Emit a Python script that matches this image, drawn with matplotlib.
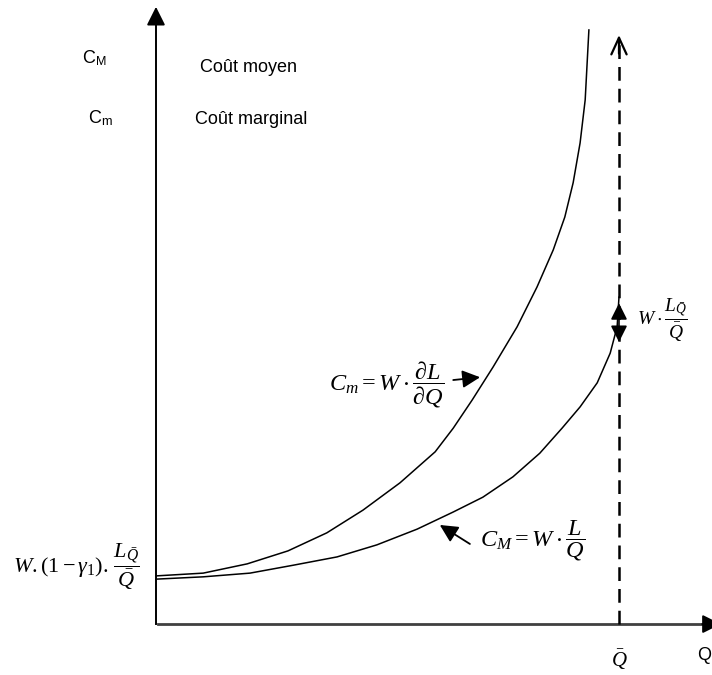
import matplotlib
matplotlib.use("Agg")
import matplotlib.pyplot as plt

plt.rcParams['font.family'] = ['Liberation Sans', 'DejaVu Sans']
plt.rcParams['mathtext.fontset'] = 'custom'
plt.rcParams['mathtext.rm'] = 'Liberation Serif'
plt.rcParams['mathtext.it'] = 'Liberation Serif:italic'
plt.rcParams['mathtext.sf'] = 'Liberation Sans'
plt.rcParams['mathtext.fallback'] = 'stix'

# marginal cost curve (upper)
q_marg = [0.0, 1.02, 1.97, 2.85, 3.69, 4.47, 5.27, 6.03, 6.42, 6.83, 7.28,
          7.80, 8.23, 8.58, 8.83, 9.01, 9.16, 9.27, 9.35]
c_marg = [1.04, 1.10, 1.30, 1.58, 1.97, 2.46, 3.05, 3.72, 4.23, 4.84, 5.55,
          6.42, 7.28, 8.08, 8.79, 9.53, 10.39, 11.32, 12.83]

# average cost curve (lower)
q_moy = [0.0, 1.02, 2.03, 2.96, 3.91, 4.77, 5.64, 6.42, 7.06, 7.71, 8.29,
         8.77, 9.16, 9.53, 9.81, 9.96, 10.0]
c_moy = [0.97, 1.02, 1.10, 1.27, 1.45, 1.71, 2.05, 2.42, 2.74, 3.18, 3.69,
         4.23, 4.69, 5.21, 5.85, 6.42, 7.06]

q_bar = 10.0
y_top = 13.33
x_end = 12.1
dash_top = 12.72
gap_low, gap_high = 6.09, 6.93

fig = plt.figure(figsize=(7.12, 6.75), dpi=100)
ax = fig.add_axes([0, 0, 1, 1])
ax.set_xlim(-3.369, 12.009)
ax.set_ylim(-1.10, 13.477)
ax.axis('off')

# axes
ax.plot([0, 0], [0, y_top - 0.3], color='black', lw=1.4)
ax.annotate('', xy=(0, y_top), xytext=(0, y_top - 0.35),
            arrowprops=dict(arrowstyle='-|>,head_length=0.8,head_width=0.4',
                            mutation_scale=14, color='black', lw=1.4,
                            shrinkA=0, shrinkB=0))
ax.plot([0.05, x_end - 0.2], [0, 0], color='#404040', lw=2)
ax.annotate('', xy=(x_end + 0.1, 0), xytext=(x_end - 0.3, 0),
            annotation_clip=False,
            arrowprops=dict(arrowstyle='-|>,head_length=0.8,head_width=0.4',
                            mutation_scale=14, color='black', lw=1.4,
                            shrinkA=0, shrinkB=0))

# dashed Q bar line
ax.plot([q_bar, q_bar], [0, dash_top - 0.05], color='black', lw=1.8,
        dashes=(5.5, 3.2))
ax.annotate('', xy=(q_bar, dash_top), xytext=(q_bar, dash_top - 0.4),
            arrowprops=dict(arrowstyle='->,head_length=1.2,head_width=0.55',
                            mutation_scale=10, color='black', lw=1.6,
                            shrinkA=0, shrinkB=0))

# curves
ax.plot(q_marg, c_marg, color='black', lw=1.1)
ax.plot(q_moy, c_moy, color='black', lw=1.1)

# small double arrow
ax.annotate('', xy=(q_bar, gap_high), xytext=(q_bar, gap_low),
            arrowprops=dict(arrowstyle='<|-|>,head_length=1.0,head_width=0.5',
                            mutation_scale=10, color='black', lw=1.2,
                            shrinkA=0, shrinkB=0))

# labels top-left
ax.text(-1.60, 12.22, r'C$_{\mathsf{M}}$', fontsize=13, va='center', ha='left')
ax.text(0.95, 12.01, 'Coût moyen', fontsize=13, va='center', ha='left')
ax.text(-1.47, 10.93, r'C$_{\mathsf{m}}$', fontsize=13, va='center', ha='left')
ax.text(0.84, 10.89, 'Coût marginal', fontsize=13, va='center', ha='left')

# formulas
ax.text(3.74, 5.16, r'$C_m = W\cdot\dfrac{\partial L}{\partial Q}$',
        fontsize=17.5, va='center', ha='left')
ax.annotate('', xy=(7.0, 5.33), xytext=(6.42, 5.27),
            arrowprops=dict(arrowstyle='-|>,head_length=0.9,head_width=0.45',
                            mutation_scale=12, color='black', lw=1.3,
                            shrinkA=0, shrinkB=0))

ax.text(7.0, 1.81, r'$C_M = W\cdot\dfrac{L}{Q}$',
        fontsize=17.5, va='center', ha='left')
ax.annotate('', xy=(6.13, 2.14), xytext=(6.78, 1.73),
            arrowprops=dict(arrowstyle='-|>,head_length=0.9,head_width=0.45',
                            mutation_scale=12, color='black', lw=1.3,
                            shrinkA=0, shrinkB=0))

ax.text(10.39, 6.55, r'$W\cdot\dfrac{L_{\bar{Q}}}{\bar{Q}}$',
        fontsize=14, va='center', ha='left')

ax.text(-3.09, 1.24, r'$W.(1-\gamma_1).\,\dfrac{L_{\bar{Q}}}{\bar{Q}}$',
        fontsize=16, va='center', ha='left')

ax.text(q_bar, -0.78, r'$\bar{Q}$', fontsize=15, va='center', ha='center')
ax.text(11.68, -0.67, 'Q', fontsize=13, va='center', ha='left')

fig.savefig('out.png', dpi=100)
